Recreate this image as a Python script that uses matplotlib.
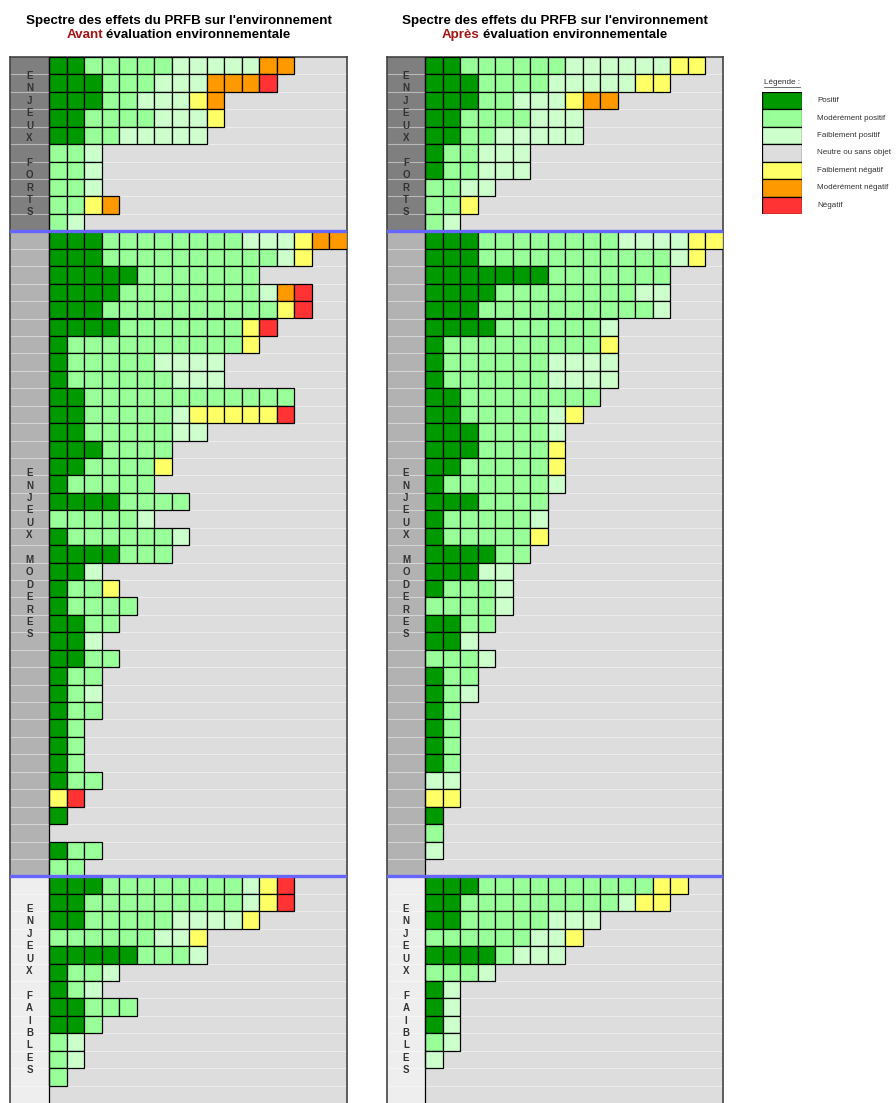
import matplotlib.pyplot as plt

plt.rcParams['font.family'] = ['Liberation Sans', 'DejaVu Sans']

# codes: P positif, M modérément positif, F faiblement positif,
#        Y faiblement négatif, O modérément négatif, R négatif
avant_forts = ["PPMMMMMFFFFFOO", "PPPMMMFFFOOOR", "PPPMMFFFYO", "PPMMMMFFFY",
               "PPMMFFFFF", "MMF", "MMF", "MMF", "MMYO", "MF"]
avant_moderes = ["PPPMMMMMMMMFFFYOO", "PPPMMMMMMMMMMFY", "PPPPPMMMMMMM",
                 "PPPPMMMMMMMMFOR", "PPPMMMMMMMMMMYR", "PPPPMMMMMMMYR",
                 "PMMMMMMMMMMY", "PMMMMMFFFF", "PMMMMMMFFF", "PPMMMMMMMMMMMM",
                 "PPMMMMMFYYYYYR", "PPMMMMMFF", "PPPMMMM", "PPMMMMY", "PMMMMM",
                 "PPPPMMMM", "MMMMMF", "PMMMMMMF", "PPPPMMM", "PPF", "PMMY",
                 "PMMMM", "PPMM", "PPF", "PPMM", "PMM", "PMF", "PMM", "PM", "PM",
                 "PM", "PMM", "YR", "P", "", "PMM", "MM"]
avant_faibles = ["PPPMMMMMMMMFYR", "PPMMMMMMMMMFYR", "PPMMMMMFFFFY", "MMMMMMFFY",
                 "PPPPPMMMF", "PMMF", "PMF", "PPMMM", "PPM", "MF", "MF", "M", ""]

apres_forts = ["PPMMMMMMFFFFFFYY", "PPPMMMMFFFFFYY", "PPPMMFFFYOO", "PPMMMMFFF",
               "PPMMFFFFF", "PMMFFF", "PMMFFF", "MMFF", "MMY", "MF"]
apres_moderes = ["PPPMMMMMMMMFFFFYY", "PPPMMMMMMMMMMMFY", "PPPPPPPMMMMMMM",
                 "PPPPMMMMMMMMFF", "PPPMMMMMMMMMMF", "PPPPMMMMMMF", "PMMMMMMMMMY",
                 "PMMMMMMFFFF", "PMMMMMMFFFF", "PPMMMMMMMM", "PPMMMMMFY", "PPPMMMMF",
                 "PPPMMMMY", "PPMMMMMY", "PMMMMMMF", "PPPMMMM", "PMMMMMF", "PMMMMMY",
                 "PPPPMM", "PPPFF", "PMMMF", "MMMMF", "PPMM", "PPF", "MMMF", "PMM",
                 "PMF", "PM", "PM", "PM", "PM", "FF", "YY", "P", "M", "F", ""]
apres_faibles = ["PPPMMMMMMMMMMYY", "PPMMMMMMMMMFYY", "PPMMMMMFFF", "MMMMMMFFY",
                 "PPPPMFFF", "MMMF", "PF", "PF", "PF", "MF", "F", "", ""]

section_names = ["ENJEUX FORTS", "ENJEUX MODERES", "ENJEUX FAIBLES"]
section_bg = ["#7f7f7f", "#b2b2b2", "#eeeeee"]

legend_codes = ["P", "M", "F", "N", "Y", "O", "R"]
legend_labels = ["Positif", "Modérément positif", "Faiblement positif",
                 "Neutre ou sans objet", "Faiblement négatif", "Modérément négatif",
                 "Négatif"]
colors = {"P": "#009900", "M": "#99ff99", "F": "#ccffcc", "N": "#dddddd",
          "Y": "#ffff66", "O": "#ff9900", "R": "#ff3333"}

W, H = 896, 1103
fig = plt.figure(figsize=(W / 100, H / 100), dpi=100)


def px_axes(x0, y0, x1, y1):
    return fig.add_axes([x0 / W, 1 - y1 / H, (x1 - x0) / W, (y1 - y0) / H])


n_cols = 17
label_w = 2.23
title_fs = 9.6


def draw_panel(ax, sections, word):
    rows = [r for s in sections for r in s]
    n = len(rows)
    ax.set_xlim(-label_w, n_cols)
    ax.set_ylim(n, 0)
    ax.set_facecolor(colors["N"])
    start = 0
    for data, name, bg in zip(sections, section_names, section_bg):
        k = len(data)
        ax.barh(start + k / 2, label_w, left=-label_w, height=k, color=bg, zorder=1)
        ax.text(-label_w / 2, start + k / 2, "\n".join(name), ha="center", va="center",
                fontsize=7, fontweight="bold", color="#333333", linespacing=1.3,
                zorder=2)
        if start > 0:
            ax.axhline(start, color="#6666ff", lw=2.4, zorder=6)
        start += k
    ax.hlines(range(1, n), -label_w, n_cols, color="white", alpha=0.45, lw=0.8, zorder=1.5)
    for i, row in enumerate(rows):
        if row:
            ax.barh([i + 0.5] * len(row), 1, left=range(len(row)), height=1,
                    color=[colors[c] for c in row], edgecolor="black", lw=0.9, zorder=3)
    ax.axvline(0, color="black", lw=0.9, zorder=5)
    ax.set_xticks([])
    ax.set_yticks([])
    for s in ax.spines.values():
        s.set_color("#444444")
        s.set_linewidth(1.2)
    ax.spines["bottom"].set_visible(False)

    # titles
    ax.annotate("Spectre des effets du PRFB sur l'environnement", xy=(0.5, 1),
                xycoords="axes fraction", xytext=(0, 26), textcoords="offset points",
                ha="center", va="center", fontsize=title_fs, fontweight="bold")
    r = fig.canvas.get_renderer()
    t1 = ax.annotate(word, xy=(0.5, 1), xycoords="axes fraction", xytext=(0, 16),
                     textcoords="offset points", ha="left", va="center", fontsize=title_fs,
                     fontweight="bold", color="#a31515")
    t2 = ax.annotate("évaluation environnementale", xy=(0.5, 1), xycoords="axes fraction",
                     xytext=(0, 16), textcoords="offset points", ha="left", va="center",
                     fontsize=title_fs, fontweight="bold")
    w1 = t1.get_window_extent(r).width
    w2 = t2.get_window_extent(r).width
    gap = 3.5
    x0 = -(w1 + gap + w2) / 2
    t1.xyann = (x0 * 0.72, 16)
    t2.xyann = ((x0 + w1 + gap) * 0.72, 16)


ax1 = px_axes(10, 57, 347, 1103)
draw_panel(ax1, [avant_forts, avant_moderes, avant_faibles], "Avant")
ax2 = px_axes(386.5, 57, 722.5, 1103)
draw_panel(ax2, [apres_forts, apres_moderes, apres_faibles], "Après")

# legend
axl = px_axes(762, 92, 802, 214)
axl.barh(range(len(legend_codes)), 1, height=1, color=[colors[c] for c in legend_codes],
         edgecolor="black", lw=0.9)
axl.set_xlim(0, 1)
axl.set_ylim(len(legend_codes) - 0.5, -0.5)
axl.axis("off")
for i, lab in enumerate(legend_labels):
    axl.text(1.38, i, lab, transform=axl.get_yaxis_transform(), ha="left", va="center",
             fontsize=5.8, color="#333333")
tl = axl.annotate("Légende :", xy=(0.5, 1), xycoords="axes fraction", xytext=(0, 6.5),
                  textcoords="offset points", ha="center", va="center", fontsize=5.9,
                  color="#333333")
bb = tl.get_window_extent(fig.canvas.get_renderer())
fig.add_artist(plt.Line2D([bb.x0 / W, bb.x1 / W], [(bb.y0 - 0.5) / H, (bb.y0 - 0.5) / H],
                          color="#333333", lw=0.5))

fig.savefig("out.png", dpi=100)
